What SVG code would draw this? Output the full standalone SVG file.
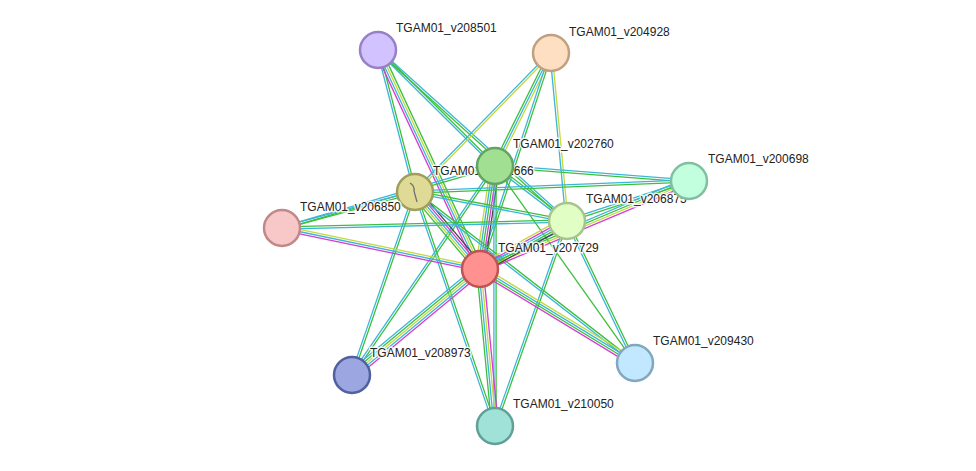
<svg xmlns="http://www.w3.org/2000/svg" width="976" height="471" viewBox="0 0 976 471">
<style>
path{fill:none;stroke-width:1.3}
.g{stroke:#3dbf3d}.c{stroke:#3bb5da}.y{stroke:#c3d93e}.m{stroke:#d43cd4}.k{stroke:#444}
circle{stroke-width:2.5}
text{font-family:"Liberation Sans",Arial,sans-serif;font-size:12px;fill:#222;stroke:#fff;stroke-width:3;stroke-opacity:0.85;paint-order:stroke;stroke-linejoin:round}
</style>
<rect width="976" height="471" fill="#fff"/>
<g id="connectors">
<g transform="translate(378 50) rotate(75.39)"><path class="g" d="M0 -1.1H146.7"/><path class="c" d="M0 1.1H146.7"/></g>
<g transform="translate(378 50) rotate(65.03)"><path class="g" d="M0 -3.3H241.6"/><path class="y" d="M0 -1.1H241.6"/><path class="c" d="M0 1.1H241.6"/><path class="m" d="M0 3.3H241.6"/></g>
<g transform="translate(378 50) rotate(44.75)"><path class="g" d="M0 -1.1H164.8"/><path class="c" d="M0 1.1H164.8"/></g>
<g transform="translate(378 50) rotate(42.14)"><path class="c" d="M0 -1.1H254.9"/><path class="g" d="M0 1.1H254.9"/></g>
<g transform="translate(551 53) rotate(134.38)"><path class="y" d="M0 -1.1H194.5"/><path class="c" d="M0 1.1H194.5"/></g>
<g transform="translate(551 53) rotate(116.36)"><path class="y" d="M0 -2.2H126.1"/><path class="c" d="M0 0H126.1"/><path class="g" d="M0 2.2H126.1"/></g>
<g transform="translate(551 53) rotate(108.2)"><path class="g" d="M0 -1.1H227.4"/><path class="c" d="M0 1.1H227.4"/></g>
<g transform="translate(551 53) rotate(84.56)"><path class="y" d="M0 -1.1H168.8"/><path class="c" d="M0 1.1H168.8"/></g>
<g transform="translate(495 166) rotate(4.42)"><path class="c" d="M0 -1.1H194.6"/><path class="g" d="M0 1.1H194.6"/></g>
<g transform="translate(495 166) rotate(98.29)"><path class="k" d="M0 -4.4H104.1"/><path class="m" d="M0 -2.2H104.1"/><path class="g" d="M0 0H104.1"/><path class="c" d="M0 2.2H104.1"/><path class="y" d="M0 4.4H104.1"/></g>
<g transform="translate(495 166) rotate(163.77)"><path class="g" d="M0 -1.1H221.8"/><path class="c" d="M0 1.1H221.8"/></g>
<g transform="translate(495 166) rotate(124.38)"><path class="g" d="M0 -1.1H253.2"/><path class="c" d="M0 1.1H253.2"/></g>
<g transform="translate(495 166) rotate(90)"><path class="g" d="M0 -1.1H260"/><path class="c" d="M0 1.1H260"/></g>
<g transform="translate(495 166) rotate(54.6)"><path class="g" d="M0 0H241.7"/></g>
<g transform="translate(495 166) rotate(37.37)"><path class="g" d="M0 -1.1H90.6"/><path class="c" d="M0 1.1H90.6"/></g>
<g transform="translate(415 192) rotate(49.83)"><path class="k" d="M0 -4.4H100.8"/><path class="m" d="M0 -2.2H100.8"/><path class="c" d="M0 0H100.8"/><path class="y" d="M0 2.2H100.8"/><path class="g" d="M0 4.4H100.8"/></g>
<g transform="translate(415 192) rotate(-2.3)"><path class="c" d="M0 -1.1H274.2"/><path class="g" d="M0 1.1H274.2"/></g>
<g transform="translate(415 192) rotate(10.8)"><path class="g" d="M0 -1.1H154.7"/><path class="c" d="M0 1.1H154.7"/></g>
<g transform="translate(415 192) rotate(164.85)"><path class="g" d="M0 -1.1H137.8"/><path class="c" d="M0 1.1H137.8"/></g>
<g transform="translate(415 192) rotate(109)"><path class="g" d="M0 -1.1H193.5"/><path class="c" d="M0 1.1H193.5"/></g>
<g transform="translate(415 192) rotate(71.13)"><path class="g" d="M0 -1.1H247.3"/><path class="c" d="M0 1.1H247.3"/></g>
<g transform="translate(415 192) rotate(37.86)"><path class="g" d="M0 -1.1H278.6"/><path class="c" d="M0 1.1H278.6"/></g>
<g transform="translate(282 228) rotate(-1.41)"><path class="g" d="M0 -1.1H285.1"/><path class="c" d="M0 1.1H285.1"/></g>
<g transform="translate(282 228) rotate(11.7)"><path class="y" d="M0 -2.2H202.2"/><path class="c" d="M0 0H202.2"/><path class="m" d="M0 2.2H202.2"/></g>
<g transform="translate(567 221) rotate(-18.15)"><path class="c" d="M0 -1.1H128.4"/><path class="g" d="M0 1.1H128.4"/></g>
<g transform="translate(689 181) rotate(157.17)"><path class="c" d="M0 3.3H226.8"/><path class="g" d="M0 1.1H226.8"/><path class="y" d="M0 -1.1H226.8"/><path class="m" d="M0 -3.3H226.8"/></g>
<g transform="translate(567 221) rotate(151.11)"><path class="k" d="M0 -4.4H99.4"/><path class="g" d="M0 -2.2H99.4"/><path class="c" d="M0 0H99.4"/><path class="m" d="M0 2.2H99.4"/><path class="y" d="M0 4.4H99.4"/></g>
<g transform="translate(567 221) rotate(64.41)"><path class="g" d="M0 -1.1H157.4"/><path class="c" d="M0 1.1H157.4"/></g>
<g transform="translate(567 221) rotate(109.36)"><path class="g" d="M0 -1.1H217.3"/><path class="c" d="M0 1.1H217.3"/></g>
<g transform="translate(480 269) rotate(140.37)"><path class="m" d="M0 -4.4H166.2"/><path class="c" d="M0 -2.2H166.2"/><path class="y" d="M0 0H166.2"/><path class="g" d="M0 2.2H166.2"/><path class="c" d="M0 4.4H166.2"/></g>
<g transform="translate(480 269) rotate(31.24)"><path class="y" d="M0 -3.3H181.3"/><path class="m" d="M0 3.3H181.3"/><path class="c" d="M0 -1.1H181.3"/><path class="g" d="M0 1.1H181.3"/></g>
<g transform="translate(480 269) rotate(84.54)"><path class="m" d="M0 -3.3H157.7"/><path class="y" d="M0 -1.1H157.7"/><path class="c" d="M0 1.1H157.7"/><path class="g" d="M0 3.3H157.7"/></g>
</g>
<g id="node-v208501"><circle cx="378" cy="50" r="18" fill="#d2c2ff" stroke="#9880c6"/><text x="396" y="32">TGAM01_v208501</text></g>
<g id="node-v204928"><circle cx="551" cy="53" r="18" fill="#ffdfc2" stroke="#c0a080"/><text x="569" y="36">TGAM01_v204928</text></g>
<g id="node-v201666"><circle cx="415" cy="192" r="18" fill="#dfdb96" stroke="#a09e5c"/><path d="M410 183 Q415 186 414 191 L417 202" stroke="#707070" stroke-width="1.3"/><text x="433" y="175">TGAM01_v201666</text></g>
<g id="node-v206850"><circle cx="282" cy="228" r="18" fill="#f8c8c8" stroke="#c08888"/><text x="300" y="211">TGAM01_v206850</text></g>
<g id="node-v206875"><circle cx="567" cy="221" r="18" fill="#e1ffc4" stroke="#a8c48e"/><text x="586" y="203">TGAM01_v206875</text></g>
<g id="node-v207729"><circle cx="480" cy="269" r="18" fill="#ff9191" stroke="#c05454"/><text x="498" y="252">TGAM01_v207729</text></g>
<g id="node-v202760"><circle cx="495" cy="166" r="18" fill="#a1df92" stroke="#62a462"/><text x="513" y="148">TGAM01_v202760</text></g>
<g id="node-v200698"><circle cx="689" cy="181" r="18" fill="#c2ffdf" stroke="#80c0a0"/><text x="708" y="163">TGAM01_v200698</text></g>
<g id="node-v208973"><circle cx="352" cy="375" r="18" fill="#9ca6e0" stroke="#5060a0"/><text x="370" y="357">TGAM01_v208973</text></g>
<g id="node-v209430"><circle cx="635" cy="363" r="18" fill="#c2e8ff" stroke="#80a8c0"/><text x="653" y="345">TGAM01_v209430</text></g>
<g id="node-v210050"><circle cx="495" cy="426" r="18" fill="#a0e2d8" stroke="#60a098"/><text x="513" y="408">TGAM01_v210050</text></g>
</svg>
